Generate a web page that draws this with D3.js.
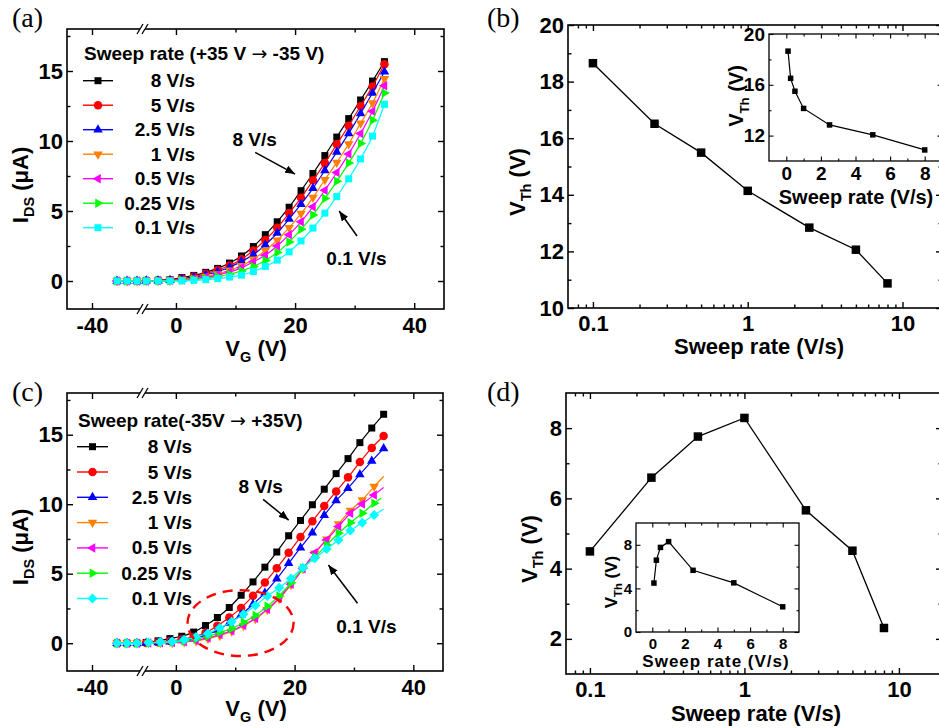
<!DOCTYPE html>
<html>
<head>
<meta charset="utf-8">
<script src="https://cdn.jsdelivr.net/npm/d3@7"></script>
<style>
  html, body { margin: 0; padding: 0; background: #fff; }
  svg { display: block; }
</style>
</head>
<body>
<script>
// ---------------- data ----------------
const sweepLabels = ["8 V/s", "5 V/s", "2.5 V/s", "1 V/s", "0.5 V/s", "0.25 V/s", "0.1 V/s"];
const seriesColors = ["#000000", "#ff0000", "#0000ff", "#ff8000", "#ff00ff", "#00ff00", "#00ffff"];
const markersA = ["square", "circle", "triUp", "triDown", "triLeft", "triRight", "square"];
const markersC = ["square", "circle", "triUp", "triDown", "triLeft", "triRight", "diamond"];

// (a) transfer curves, sweep +35 V -> -35 V
const vgA = [-35, -33, -31, -5, -3, -1, 1, 3, 5, 7, 9, 11, 13, 15, 17, 19, 21, 23, 25, 27, 29, 31, 33, 35];
const a8   = [0, 0, 0, 0.02, 0.05, 0.10, 0.25, 0.40, 0.62, 0.90, 1.28, 1.79, 2.46, 3.31, 4.23, 5.27, 6.45, 7.68, 8.96, 10.28, 11.60, 12.93, 14.28, 15.67];
const a5   = [0, 0, 0, 0.01, 0.03, 0.08, 0.18, 0.32, 0.52, 0.78, 1.11, 1.56, 2.18, 2.93, 3.81, 4.85, 5.94, 7.19, 8.42, 9.77, 11.09, 12.50, 13.90, 15.48];
const a25  = [0, 0, 0, 0.01, 0.02, 0.06, 0.14, 0.26, 0.43, 0.66, 0.98, 1.40, 1.89, 2.58, 3.43, 4.43, 5.49, 6.62, 7.90, 9.22, 10.54, 11.96, 13.43, 14.94];
const a1   = [0, 0, 0, 0.01, 0.02, 0.04, 0.10, 0.20, 0.32, 0.50, 0.76, 1.09, 1.56, 2.18, 2.91, 3.81, 4.82, 5.96, 7.23, 8.47, 9.79, 11.26, 12.72, 14.45];
const a05  = [0, 0, 0, 0, 0.01, 0.03, 0.08, 0.15, 0.26, 0.42, 0.64, 0.94, 1.37, 1.84, 2.50, 3.31, 4.23, 5.30, 6.48, 7.75, 9.08, 10.54, 12.13, 13.95];
const a025 = [0, 0, 0, 0, 0.01, 0.02, 0.05, 0.10, 0.18, 0.30, 0.48, 0.72, 1.04, 1.47, 2.03, 2.79, 3.69, 4.71, 5.89, 7.12, 8.42, 9.83, 11.49, 13.43];
const a01  = [0, 0, 0, 0, 0, 0, 0.02, 0.05, 0.10, 0.17, 0.28, 0.42, 0.68, 1.04, 1.49, 2.08, 2.86, 3.78, 4.85, 6.03, 7.30, 8.72, 10.35, 12.62];

// (c) transfer curves, sweep -35 V -> +35 V
const vgCfast = [-35, -33, -31, -5, -3, -1, 1, 3, 5, 7, 9, 11, 13, 15, 17, 19, 21, 23, 25, 27, 29, 31, 33, 35];
const vgCslow = [-35, -33, -31, -4.6, -2.6, -0.6, 1.4, 3.4, 5.4, 7.4, 9.4, 11.4, 13.4, 15.4, 17.4, 19.4, 21.4, 23.4, 25.4, 27.4, 29.4, 31.4, 33.4];
const c8   = [0, 0, 0, 0.05, 0.17, 0.33, 0.50, 0.80, 1.27, 1.85, 2.57, 3.45, 4.41, 5.47, 6.56, 7.73, 8.83, 9.96, 11.08, 12.20, 13.28, 14.43, 15.48, 16.47];
const c5   = [0, 0, 0, 0.02, 0.07, 0.15, 0.28, 0.45, 0.75, 1.26, 1.85, 2.54, 3.41, 4.36, 5.40, 6.50, 7.64, 8.77, 9.87, 10.92, 11.93, 13.03, 14.05, 14.91];
const c25  = [0, 0, 0, 0.02, 0.05, 0.10, 0.20, 0.35, 0.60, 0.95, 1.45, 2.05, 2.80, 3.62, 4.63, 5.75, 6.87, 7.95, 9.20, 10.26, 11.15, 12.14, 13.10, 14.00];
const c1   = [0, 0, 0, 0.02, 0.03, 0.04, 0.08, 0.16, 0.32, 0.56, 0.85, 1.25, 1.75, 2.40, 3.20, 4.20, 5.35, 6.47, 7.48, 8.58, 9.54, 10.31, 11.27];
const c05  = [0, 0, 0, 0.02, 0.03, 0.05, 0.10, 0.20, 0.38, 0.62, 0.90, 1.30, 1.80, 2.45, 3.25, 4.25, 5.35, 6.50, 7.43, 8.39, 9.35, 10.02, 10.67];
const c025 = [0, 0, 0, 0.03, 0.05, 0.08, 0.16, 0.30, 0.50, 0.78, 1.05, 1.50, 2.00, 2.65, 3.40, 4.35, 5.40, 6.18, 7.07, 7.91, 8.67, 9.35, 10.07];
const c01  = [0, 0, 0, 0.05, 0.08, 0.12, 0.24, 0.45, 0.70, 1.10, 1.55, 2.09, 2.72, 3.39, 3.99, 4.66, 5.43, 6.11, 6.78, 7.43, 8.10, 8.67, 9.23];
// end points of the fitted lines of the slow sweeps (no marker there)
const tailV = [35, 35, 34.6, 35];
const tailI = [12.0, 11.2, 10.45, 9.64];

// (b), (d) threshold voltage vs sweep rate
const rates = [0.1, 0.25, 0.5, 1, 2.5, 5, 8];
const vthB = [18.65, 16.51, 15.49, 14.14, 12.84, 12.06, 10.87];
const vthD = [4.49, 6.59, 7.76, 8.29, 5.66, 4.51, 2.31];

// annotations (data units)
const arrowA8 = [[13.3, 9.19], [20.0, 7.64]];
const labelA8 = [13.2, 9.64];
const arrowA01 = [[30.4, 3.21], [27.4, 5.0]];
const labelA01 = [30.3, 1.14];
const arrowC8 = [[14.7, 10.35], [19.0, 8.86]];
const labelC8 = [14.3, 10.78];
const arrowC01 = [[30.6, 2.87], [25.7, 5.63]];
const labelC01 = [32.1, 0.76];
const ellipseCenter = [10.9, 1.45];
const ellipseRadii = [8.93, 2.37];

// ---------------- drawing ----------------
const FONT = '"Liberation Sans", Arial, Helvetica, sans-serif';
const SERIF = '"Liberation Serif", "Times New Roman", serif';
const ARROWFONT = '"DejaVu Sans", sans-serif';
const W = 939, H = 728;

const svg = d3.select("body").append("svg").attr("width", W).attr("height", H);
svg.append("rect").attr("width", W).attr("height", H).attr("fill", "#fff");

const defs = svg.append("defs");
defs.append("marker").attr("id", "arrowHead")
  .attr("viewBox", "0 0 10 8").attr("refX", 10).attr("refY", 4)
  .attr("markerWidth", 10).attr("markerHeight", 8)
  .attr("markerUnits", "userSpaceOnUse").attr("orient", "auto")
  .append("path").attr("d", "M0,0L10,4L0,8Z").attr("fill", "#000");

function symbolPath(kind, size) {
  let type = d3.symbolSquare, area = size * size;
  if (kind === "circle") { type = d3.symbolCircle; area = Math.PI * size * size / 4; }
  else if (kind.startsWith("tri")) { type = d3.symbolTriangle; area = Math.sqrt(3) / 4 * size * size; }
  else if (kind === "diamond") { area = size * size * 0.5; }
  return d3.symbol(type, area)();
}
const symbolRot = { square: 0, circle: 0, triUp: 0, triDown: 180, triLeft: -90, triRight: 90, diamond: 45 };
const symbolSize = { square: 7, circle: 8.5, triUp: 9.5, triDown: 9.5, triLeft: 9.5, triRight: 9.5, diamond: 10 };

function axis(g, orient, scale, pos, major, minor, o) {
  const make = { bottom: d3.axisBottom, top: d3.axisTop, left: d3.axisLeft, right: d3.axisRight }[orient];
  const tr = (orient === "bottom" || orient === "top") ? `translate(0,${pos})` : `translate(${pos},0)`;
  if (minor && minor.length) {
    const m = g.append("g").attr("transform", tr)
      .call(make(scale).tickValues(minor).tickSize(-o.minLen).tickFormat(""));
    m.select(".domain").remove();
    m.selectAll("line").attr("stroke", "#000").attr("stroke-width", o.sw);
  }
  const ax = make(scale).tickValues(major).tickSize(-o.majLen).tickPadding(o.pad || 3)
    .tickFormat(o.labels ? (d => String(d)) : "");
  const a = g.append("g").attr("transform", tr).call(ax);
  a.attr("font-family", FONT).attr("font-size", o.fs || 10).attr("font-weight", "bold");
  a.select(".domain").remove();
  a.selectAll("line").attr("stroke", "#000").attr("stroke-width", o.sw);
  a.selectAll("text").attr("fill", "#000");
}

function richText(g, x, y, parts, fs, rotate, anchor, extra) {
  const t = g.append("text")
    .attr("transform", `translate(${x},${y})` + (rotate ? " rotate(-90)" : ""))
    .attr("text-anchor", anchor || "middle")
    .attr("font-family", FONT).attr("font-weight", "bold").attr("font-size", fs)
    .attr("fill", "#000");
  if (extra) t.attr("letter-spacing", extra);
  let shift = 0;
  parts.forEach(([s, sub]) => {
    const target = sub ? fs * 0.28 : 0;
    t.append("tspan").attr("dy", target - shift)
      .attr("font-size", sub ? fs * 0.66 : fs).text(s);
    shift = target;
  });
  return t;
}

function panelLabel(x, y, s) {
  svg.append("text").attr("x", x).attr("y", y).attr("font-family", SERIF)
    .attr("font-size", 28).attr("fill", "#000").text(s);
}

// ---- I-V panel with broken gate-voltage axis ----
function ivPanel(o) {
  const g = svg.append("g");
  const x = d3.scaleLinear().domain([-45, -30, -5.7, 45]).range([o.x0, o.xb, o.xb, o.x1]);
  const y = d3.scaleLinear().domain([-2, 18]).range([o.y1, o.y0]);

  const tickOpt = { majLen: 6, minLen: 3.5, sw: 1.4 };
  axis(g, "bottom", x, o.y1, [-40, 0, 20, 40], [10, 30], { ...tickOpt, labels: true, fs: 22, pad: 8 });
  axis(g, "top", x, o.y0, [-40, 0, 20, 40], [10, 30], tickOpt);
  axis(g, "left", y, o.x0, [0, 5, 10, 15], [2.5, 7.5, 12.5, 17.5], { ...tickOpt, labels: true, fs: 22, pad: 4 });
  axis(g, "right", y, o.x1, [0, 5, 10, 15], [2.5, 7.5, 12.5, 17.5], tickOpt);

  const line = d3.line().x(d => x(d[0])).y(d => y(d[1])).curve(d3.curveMonotoneX);
  const plot = g.append("g");
  o.series.forEach((s, k) => {
    const pts = s.v.map((v, i) => [v, s.i[i]]);
    const left = pts.filter(p => p[0] < -20);
    const right = pts.filter(p => p[0] > -20);
    if (s.tail) right.push(s.tail);
    [left, right].forEach(seg => {
      plot.append("path").datum(seg).attr("d", line).attr("fill", "none")
        .attr("stroke", seriesColors[k]).attr("stroke-width", 1.2);
    });
    const kind = o.markers[k];
    plot.append("g").selectAll("path").data(pts).join("path")
      .attr("d", symbolPath(kind, symbolSize[kind]))
      .attr("transform", d => `translate(${x(d[0])},${y(d[1])}) rotate(${symbolRot[kind]})`)
      .attr("fill", seriesColors[k]);
  });

  // frame with axis break
  g.append("rect").attr("x", o.x0).attr("y", o.y0).attr("width", o.x1 - o.x0).attr("height", o.y1 - o.y0)
    .attr("fill", "none").attr("stroke", "#000").attr("stroke-width", 1.6);
  [o.y0, o.y1].forEach(yy => {
    g.append("rect").attr("x", o.xb - 2).attr("y", yy - 2).attr("width", 5).attr("height", 4).attr("fill", "#fff");
    [-5, 0].forEach(dx => {
      g.append("line").attr("x1", o.xb + dx).attr("y1", yy + 5).attr("x2", o.xb + dx + 6).attr("y2", yy - 5)
        .attr("stroke", "#000").attr("stroke-width", 1.3);
    });
  });

  // annotations
  o.arrows.forEach(a => {
    g.append("line").attr("x1", x(a.from[0][0])).attr("y1", y(a.from[0][1]))
      .attr("x2", x(a.from[1][0])).attr("y2", y(a.from[1][1]))
      .attr("stroke", "#000").attr("stroke-width", 1.5).attr("marker-end", "url(#arrowHead)");
    g.append("text").attr("x", x(a.label[0])).attr("y", y(a.label[1]))
      .attr("text-anchor", "middle").attr("font-family", FONT).attr("font-weight", "bold")
      .attr("font-size", 19).attr("fill", "#000").text(a.text);
  });
  if (o.ellipse) {
    const [cv, ci] = o.ellipse[0], [rv, ri] = o.ellipse[1];
    g.append("ellipse").attr("cx", x(cv)).attr("cy", y(ci))
      .attr("rx", x(cv + rv) - x(cv)).attr("ry", y(ci - ri) - y(ci))
      .attr("fill", "none").attr("stroke", "#ff0000").attr("stroke-width", 2.4)
      .attr("stroke-dasharray", "10,7");
  }

  // legend
  const lg = g.append("g");
  const tt = lg.append("text").attr("x", o.leg.x).attr("y", o.leg.titleY).attr("font-family", FONT)
    .attr("font-weight", "bold").attr("font-size", 19).attr("fill", "#000");
  tt.append("tspan").text(o.leg.title[0]);
  tt.append("tspan").attr("font-family", ARROWFONT).attr("font-weight", "normal").text("\u2192");
  tt.append("tspan").text(o.leg.title[1]);
  sweepLabels.forEach((lab, k) => {
    const cy = o.leg.y0 + k * o.leg.dy;
    lg.append("line").attr("x1", o.leg.lx0).attr("x2", o.leg.lx1).attr("y1", cy).attr("y2", cy)
      .attr("stroke", seriesColors[k]).attr("stroke-width", 1.4);
    const kind = o.markers[k];
    lg.append("path").attr("d", symbolPath(kind, symbolSize[kind]))
      .attr("transform", `translate(${(o.leg.lx0 + o.leg.lx1) / 2},${cy}) rotate(${symbolRot[kind]})`)
      .attr("fill", seriesColors[k]);
    lg.append("text").attr("x", o.leg.tx).attr("y", cy + 6.5).attr("text-anchor", "end")
      .attr("font-family", FONT).attr("font-weight", "bold").attr("font-size", 19)
      .attr("fill", "#000").text(lab);
  });

  richText(g, o.yTitle[0], o.yTitle[1], [["I", 0], ["DS", 1], [" (\u03bcA)", 0]], 22, true);
  richText(g, o.xTitle[0], o.xTitle[1], [["V", 0], ["G", 1], [" (V)", 0]], 22, false);
}

// ---- threshold voltage panel with inset ----
function vthPanel(o) {
  const g = svg.append("g");
  const x = d3.scaleLog().domain(o.xDom).range([o.x0, o.x1]);
  const y = d3.scaleLinear().domain(o.yDom).range([o.y1, o.y0]);
  const tickOpt = { majLen: 6, minLen: 3.5, sw: 1.4 };
  const xMinor = [0.08, 0.09, 0.2, 0.3, 0.4, 0.5, 0.6, 0.7, 0.8, 0.9, 2, 3, 4, 5, 6, 7, 8, 9];
  axis(g, "bottom", x, o.y1, [0.1, 1, 10], xMinor, { ...tickOpt, labels: true, fs: 22, pad: 7 });
  axis(g, "top", x, o.y0, [0.1, 1, 10], xMinor, tickOpt);
  axis(g, "left", y, o.x0, o.yMajor, o.yMinor, { ...tickOpt, labels: true, fs: 22, pad: 4 });
  axis(g, "right", y, o.x1, o.yMajor, o.yMinor, tickOpt);
  g.append("rect").attr("x", o.x0).attr("y", o.y0).attr("width", o.x1 - o.x0).attr("height", o.y1 - o.y0)
    .attr("fill", "none").attr("stroke", "#000").attr("stroke-width", 1.6);

  const pts = rates.map((r, i) => [r, o.vth[i]]);
  g.append("path").datum(pts).attr("d", d3.line().x(d => x(d[0])).y(d => y(d[1])))
    .attr("fill", "none").attr("stroke", "#000").attr("stroke-width", 1.3);
  g.append("g").selectAll("path").data(pts).join("path")
    .attr("d", symbolPath("square", 8.5))
    .attr("transform", d => `translate(${x(d[0])},${y(d[1])})`).attr("fill", "#000");

  richText(g, o.yTitle[0], o.yTitle[1], [["V", 0], ["Th", 1], [" (V)", 0]], 22, true);
  richText(g, o.xTitle[0], o.xTitle[1], [["Sweep rate (V/s)", 0]], 22, false);

  // inset on a linear rate axis
  const n = o.inset;
  const gi = g.append("g");
  gi.append("rect").attr("x", n.x0).attr("y", n.y0).attr("width", n.x1 - n.x0).attr("height", n.y1 - n.y0)
    .attr("fill", "#fff");
  const xi = d3.scaleLinear().domain([-1, 9]).range([n.x0, n.x1]);
  const yi = d3.scaleLinear().domain(n.yDom).range([n.y1, n.y0]);
  const iOpt = { majLen: 4.5, minLen: 2.5, sw: 1.1 };
  axis(gi, "bottom", xi, n.y1, [0, 2, 4, 6, 8], [1, 3, 5, 7], { ...iOpt, labels: true, fs: n.fs, pad: n.xPad });
  axis(gi, "top", xi, n.y0, [0, 2, 4, 6, 8], [1, 3, 5, 7], iOpt);
  axis(gi, "left", yi, n.x0, n.yMajor, n.yMinor, { ...iOpt, labels: true, fs: n.fs, pad: 4 });
  axis(gi, "right", yi, n.x1, n.yMajor, n.yMinor, iOpt);
  gi.append("rect").attr("x", n.x0).attr("y", n.y0).attr("width", n.x1 - n.x0).attr("height", n.y1 - n.y0)
    .attr("fill", "none").attr("stroke", "#000").attr("stroke-width", 1.3);
  gi.append("path").datum(pts).attr("d", d3.line().x(d => xi(d[0])).y(d => yi(d[1])))
    .attr("fill", "none").attr("stroke", "#000").attr("stroke-width", 1.2);
  gi.append("g").selectAll("path").data(pts).join("path")
    .attr("d", symbolPath("square", 5.5))
    .attr("transform", d => `translate(${xi(d[0])},${yi(d[1])})`).attr("fill", "#000");
  richText(gi, n.yTitle[0], n.yTitle[1], [["V", 0], ["Th", 1], [" (V)", 0]], n.titleFs, true);
  richText(gi, n.xTitle[0], n.xTitle[1], [["Sweep rate (V/s)", 0]], n.titleFs, false, "middle", n.spacing);
}

// (a)
ivPanel({
  x0: 67, xb: 142, x1: 444, y0: 29, y1: 309,
  markers: markersA,
  series: [a8, a5, a25, a1, a05, a025, a01].map(arr => ({ v: vgA, i: arr })),
  arrows: [
    { from: arrowA8, label: labelA8, text: "8 V/s" },
    { from: arrowA01, label: labelA01, text: "0.1 V/s" }
  ],
  leg: { title: ["Sweep rate (+35 V ", " -35 V)"], x: 84, titleY: 60, y0: 80.7, dy: 24.5,
         lx0: 83, lx1: 113, tx: 195 },
  yTitle: [28, 185], xTitle: [256, 356]
});

// (c)
ivPanel({
  x0: 67, xb: 142, x1: 443, y0: 393, y1: 671,
  markers: markersC,
  series: [
    { v: vgCfast, i: c8 }, { v: vgCfast, i: c5 }, { v: vgCfast, i: c25 },
    { v: vgCslow, i: c1, tail: [tailV[0], tailI[0]] },
    { v: vgCslow, i: c05, tail: [tailV[1], tailI[1]] },
    { v: vgCslow, i: c025, tail: [tailV[2], tailI[2]] },
    { v: vgCslow, i: c01, tail: [tailV[3], tailI[3]] }
  ],
  arrows: [
    { from: arrowC8, label: labelC8, text: "8 V/s" },
    { from: arrowC01, label: labelC01, text: "0.1 V/s" }
  ],
  ellipse: [ellipseCenter, ellipseRadii],
  leg: { title: ["Sweep rate(-35V ", " +35V)"], x: 78, titleY: 427, y0: 446.7, dy: 25.3,
         lx0: 77, lx1: 108, tx: 192 },
  yTitle: [28, 547], xTitle: [256, 716]
});

// (b)
vthPanel({
  x0: 568, x1: 942, y0: 25, y1: 308, xDom: [0.069, 18], yDom: [10, 20],
  yMajor: [10, 12, 14, 16, 18, 20], yMinor: [11, 13, 15, 17, 19],
  vth: vthB, yTitle: [525, 182], xTitle: [759, 354],
  inset: { x0: 769, x1: 942, y0: 34, y1: 161, yDom: [10, 20],
           yMajor: [12, 16, 20], yMinor: [14, 18], fs: 19, xPad: 6, titleFs: 20,
           yTitle: [743, 96], xTitle: [856, 204], spacing: null }
});

// (d)
vthPanel({
  x0: 566, x1: 942, y0: 393, y1: 674, xDom: [0.07, 19], yDom: [1, 9],
  yMajor: [2, 4, 6, 8], yMinor: [3, 5, 7],
  vth: vthD, yTitle: [537, 549], xTitle: [756, 721],
  inset: { x0: 636, x1: 799, y0: 523, y1: 632, yDom: [0, 10],
           yMajor: [0, 4, 8], yMinor: [2, 6], fs: 15, xPad: 6, titleFs: 17,
           yTitle: [617, 582], xTitle: [716, 667], spacing: 1 }
});

panelLabel(12, 27, "(a)");
panelLabel(487, 27, "(b)");
panelLabel(12, 401, "(c)");
panelLabel(487, 401, "(d)");
</script>
</body>
</html>
